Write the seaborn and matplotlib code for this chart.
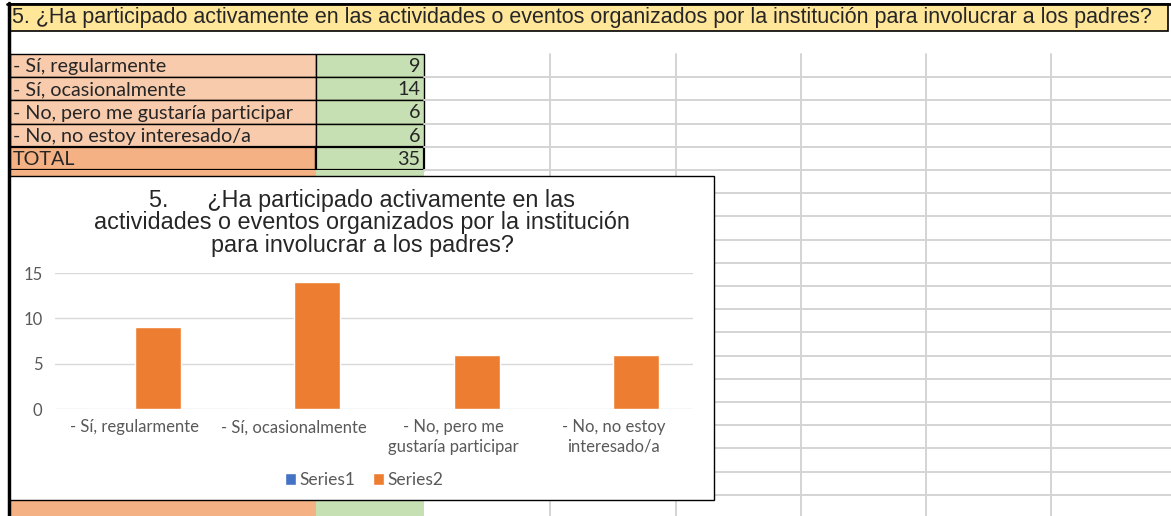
import matplotlib
matplotlib.use("Agg")
import matplotlib.pyplot as plt
from matplotlib.patches import Rectangle
import pandas as pd
import seaborn as sns

question = ("5. ¿Ha participado activamente en las actividades o eventos "
            "organizados por la institución para involucrar a los padres?")
chart_title = ("5.      ¿Ha participado activamente en las\n"
               "actividades o eventos organizados por la institución\n"
               "para involucrar a los padres?")
categories = ["- Sí, regularmente", "- Sí, ocasionalmente",
              "- No, pero me gustaría participar", "- No, no estoy interesado/a"]
tick_labels = ["- Sí, regularmente", "- Sí, ocasionalmente",
               "- No, pero me\ngustaría participar", "- No, no estoy\ninteresado/a"]
series1 = [0, 0, 0, 0]
series2 = [9, 14, 6, 6]
series_names = ["Series1", "Series2"]
series_colors = ["#4472C4", "#ED7D31"]
y_ticks = [0, 5, 10, 15]

sns.set_theme(style="white")
plt.rcParams["font.family"] = ["Lato", "DejaVu Sans"]

W, H = 1171, 516
fig = plt.figure(figsize=(W / 100, H / 100), dpi=100)

# spreadsheet background, in pixel coordinates
bg = fig.add_axes([0, 0, 1, 1])
bg.set_xlim(0, W)
bg.set_ylim(H, 0)
bg.axis("off")

row_top = 54
row_h = 23.2
grid_c = "#D4D4D4"

for x in [550, 675.5, 800.5, 925.5, 1051]:
    bg.plot([x, x], [row_top, H], color=grid_c, lw=1.4)
k = 1
while row_top + k * row_h < H:
    y = row_top + k * row_h
    bg.plot([424, W], [y, y], color=grid_c, lw=1.4)
    k += 1

# title row
bg.add_patch(Rectangle((10, 4), 1158, 26.5, fc="#FFE699", ec="black", lw=1.2))
bg.text(12, 17.5, question, fontsize=15.5, family=["Liberation Sans", "DejaVu Sans"],
        va="center", ha="left")

# table
for i, (lab, val) in enumerate(zip(categories + ["TOTAL"], series2 + [sum(series2)])):
    y0 = row_top + i * row_h
    total = lab == "TOTAL"
    bg.add_patch(Rectangle((10, y0), 306, row_h, fc="#F4B183" if total else "#F8CBAD",
                           ec="black", lw=1.6 if total else 1))
    bg.add_patch(Rectangle((316, y0), 108, row_h, fc="#C6E0B4", ec="black",
                           lw=1.6 if total else 1))
    bg.text(13, y0 + row_h / 2 + 1, lab, fontsize=14.2, va="center", ha="left")
    bg.text(420, y0 + row_h / 2 + 1, str(val), fontsize=14.2, va="center", ha="right")

y5 = row_top + 5 * row_h
bg.add_patch(Rectangle((10, y5), 306, H - y5, fc="#F4B183", ec="none"))
bg.add_patch(Rectangle((316, y5), 108, H - y5, fc="#C6E0B4", ec="none"))

# sheet borders
bg.plot([7, W], [3.5, 3.5], color="black", lw=2)
bg.plot([8.5, 8.5], [3, H], color="black", lw=2.5)

# chart box
bg.add_patch(Rectangle((9.5, 175.5), 704.5, 324.5, fc="white", ec="black", lw=1, zorder=5))

# chart
ax = fig.add_axes([55 / W, (H - 409) / H, 638 / W, 136 / H])
ax.patch.set_alpha(0)

df = pd.DataFrame({
    "category": categories * 2,
    "series": [series_names[0]] * len(categories) + [series_names[1]] * len(categories),
    "value": series1 + series2,
})
sns.barplot(data=df, x="category", y="value", hue="series", palette=series_colors,
            width=0.577, saturation=1, errorbar=None, ax=ax)

ax.set_ylim(0, 15)
ax.set_yticks(y_ticks)
ax.set_xticks(range(len(tick_labels)))
ax.set_xticklabels(tick_labels, linespacing=1.25)
ax.set_xlabel("")
ax.set_ylabel("")
ax.yaxis.grid(True, color="#D9D9D9", lw=1)
ax.set_axisbelow(True)
for s in ax.spines.values():
    s.set_visible(False)
ax.tick_params(axis="both", length=0, colors="#595959", labelsize=12)
ax.tick_params(axis="x", pad=7.5)
ax.tick_params(axis="y", pad=9)

handles, labels = ax.get_legend_handles_labels()
ax.get_legend().remove()
fig.legend(handles, labels, loc="center", bbox_to_anchor=(364 / W, (H - 480) / H),
           ncol=2, frameon=False, handlelength=0.65, handleheight=0.65,
           handletextpad=0.2, columnspacing=1.0, fontsize=12.5, labelcolor="#595959")

fig.text(362 / W, (H - 223) / H, chart_title, ha="center", va="center",
         fontsize=16.8, family=["Liberation Sans", "DejaVu Sans"], linespacing=0.97)

fig.savefig("out.png", dpi=100)
